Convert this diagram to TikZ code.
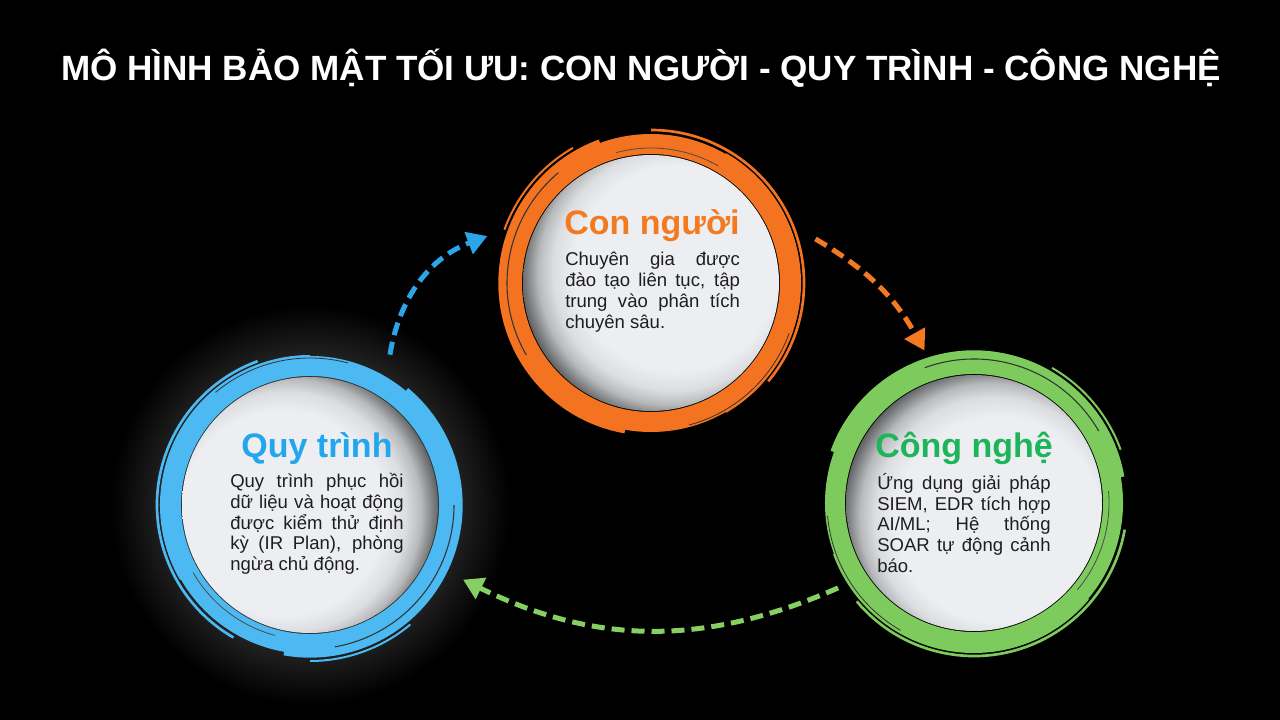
\documentclass[tikz,border=0pt]{standalone}
\usepackage{fontspec}
\setmainfont{Liberation Sans}
\usetikzlibrary{arrows.meta}

\definecolor{ringOrange}{HTML}{F37321}
\definecolor{ringBlue}{HTML}{4CB9F2}
\definecolor{ringGreen}{HTML}{7DCB5C}
\definecolor{headOrange}{HTML}{F47A22}
\definecolor{headBlue}{HTML}{23A6EE}
\definecolor{headGreen}{HTML}{1DB45A}
\definecolor{arrowBlue}{HTML}{2BA4E8}
\definecolor{arrowOrange}{HTML}{F47A22}
\definecolor{arrowGreen}{HTML}{86CF62}
\definecolor{cardFill}{HTML}{ECEEF1}
\definecolor{bodyText}{HTML}{1E1E1E}

\hyphenpenalty=10000
\exhyphenpenalty=10000

% card fills, lit from the side away from the shadow
\pgfdeclareradialshading{cardOrange}{\pgfpoint{8.2bp}{4.7bp}}{color(0bp)=(cardFill); color(20bp)=(cardFill); color(23.5bp)=(cardFill!93!black); color(26bp)=(cardFill!78!black); color(29bp)=(cardFill!40!black); color(50bp)=(cardFill!40!black)}
\pgfdeclareradialshading{cardBlue}{\pgfpoint{-9bp}{-2.7bp}}{color(0bp)=(cardFill); color(20bp)=(cardFill); color(23.5bp)=(cardFill!93!black); color(26bp)=(cardFill!78!black); color(29bp)=(cardFill!40!black); color(50bp)=(cardFill!40!black)}
\pgfdeclareradialshading{cardGreen}{\pgfpoint{7.7bp}{-5.4bp}}{color(0bp)=(cardFill); color(20bp)=(cardFill); color(23.5bp)=(cardFill!93!black); color(26bp)=(cardFill!78!black); color(29bp)=(cardFill!40!black); color(50bp)=(cardFill!40!black)}

% brush ring: centre, colour, turn, card shading
\newcommand{\brushring}[4]{%
    \begin{scope}[shift={(#1)}, rotate=#3]
        \draw[#2, line width=15pt] (0,0) circle[radius=139];
        \draw[#2, line width=6pt] (300:146) arc[start angle=300, end angle=420, radius=146];
        \draw[#2, line width=4pt] (100:150) arc[start angle=100, end angle=250, radius=150];
        \draw[#2, line width=2pt] (270:153) arc[start angle=270, end angle=400, radius=153];
        \draw[#2, line width=1.5pt] (200:156) arc[start angle=200, end angle=240, radius=156];
        \draw[black!80, line width=0.8pt] (150:144) arc[start angle=150, end angle=230, radius=144];
        \draw[black!80, line width=0.6pt] (20:147) arc[start angle=20, end angle=75, radius=147];
        \draw[black!70, line width=0.6pt] (255:135) arc[start angle=255, end angle=300, radius=135];
    \end{scope}
    \shade[shading=#4] (#1) circle[radius=128];}

\begin{document}
\begin{tikzpicture}[x=0.75pt, y=-0.75pt,
    ring node/.style={circle, minimum size=255pt, inner sep=0pt},
    flow/.style={line width=3.75pt, dash pattern=on 9.75pt off 5.25pt, -{Triangle[length=15pt, width=17pt]}},
    titletext/.style={text=white, font=\bfseries\fontsize{26.3}{30}\selectfont, inner sep=0pt},
    headtext/.style={font=\bfseries\fontsize{25.5}{30}\selectfont, inner sep=0pt},
    bodytext/.style={text=bodyText, text width=130pt, align=justify, inner sep=0pt, font=\fontsize{13.9}{15.6}\selectfont}]

    \useasboundingbox (0,0) rectangle (1280,720);
    \fill[black] (0,0) rectangle (1280,720);

    \node[titletext, anchor=base] (title) at (641,81) {MÔ HÌNH BẢO MẬT TỐI ƯU: CON NGƯỜI - QUY TRÌNH - CÔNG NGHỆ};

    \node[ring node] (nguoi) at (651,283) {};
    \node[ring node] (quytrinh) at (310,505) {};
    \node[ring node, minimum size=240pt] (congnghe) at (974,503) {};

    % glow behind the left ring
    \fill[inner color=white!50!black, outer color=black] (quytrinh.center) circle[radius=200];

    \brushring{nguoi.center}{ringOrange}{0}{cardOrange}
    \brushring{quytrinh.center}{ringBlue}{150}{cardBlue}
    \brushring{congnghe.center}{ringGreen}{260}{cardGreen}

    \node[headtext, text=headOrange, anchor=base] (nguoiHead) at (652,234) {Con người};
    \node[bodytext, text width=131pt, anchor=north west] (nguoiBody) at (565,252)
        {Chuyên gia được\linebreak đào tạo liên tục, tập\linebreak trung vào phân tích\linebreak chuyên sâu.};

    \node[headtext, text=headBlue, anchor=base] (quytrinhHead) at (317,457) {Quy trình};
    \node[bodytext, anchor=north west] (quytrinhBody) at (230,473)
        {Quy trình phục hồi\linebreak dữ liệu và hoạt động\linebreak được kiểm thử định\linebreak kỳ (IR Plan), phòng\linebreak ngừa chủ động.};

    \node[headtext, text=headGreen, anchor=base] (congngheHead) at (964,457) {Công nghệ};
    \node[bodytext, anchor=north west] (congngheBody) at (877,473)
        {Ứng dụng giải pháp\linebreak SIEM, EDR tích hợp\linebreak AI/ML; Hệ thống\linebreak SOAR tự động cảnh\linebreak báo.};

    \draw[flow, arrowBlue] (quytrinh.62) to[bend left=30] (nguoi.164);
    \draw[flow, arrowOrange] (nguoi.15) to[bend left=15] (congnghe.108);
    \draw[flow, arrowGreen] (congnghe.212) to[bend left=25] (quytrinh.-26);

\end{tikzpicture}
\end{document}
